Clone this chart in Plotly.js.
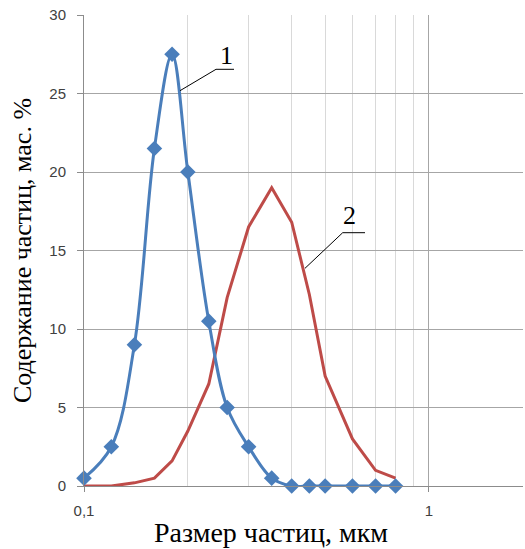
<!DOCTYPE html>
<html>
<head>
<meta charset="utf-8">
<script src="https://cdn.plot.ly/plotly-3.0.1.min.js"></script>
<style>html,body{margin:0;padding:0;background:#fff;}#chart{width:525px;height:549px;}</style>
</head>
<body>
<div id="chart"></div>
<script>
// Particle size, µm
const sizes = [0.1, 0.12, 0.14, 0.16, 0.18, 0.2, 0.23, 0.26, 0.3, 0.35, 0.4, 0.45, 0.5, 0.6, 0.7, 0.8];
// Series 1 (blue, smoothed with markers), mass %
const series1 = [0.5, 2.5, 9, 21.5, 27.5, 20, 10.5, 5, 2.5, 0.5, 0, 0, 0, 0, 0, 0];
// Series 2 (red, straight lines), mass %
const series2 = [0, 0, 0.2, 0.5, 1.6, 3.5, 6.5, 12, 16.5, 19, 16.8, 12.2, 7, 3, 1, 0.5];
const seriesLabels = ['1', '2'];
const xTickVals = [0.1, 1, 10];
const xTickText = ['0,1', '1', '10'];
const xMinorVals = [0.2, 0.3, 0.4, 0.5, 0.6, 0.7, 0.8, 0.9];
const yTickVals = [0, 5, 10, 15, 20, 25, 30];
const xTitle = 'Размер частиц, мкм';
const yTitle = 'Содержание частиц, мас. %';

const traces = [
  {x: sizes, y: series2, type: 'scatter', mode: 'lines', name: seriesLabels[1],
   line: {color: '#be4b48', width: 3}, cliponaxis: false},
  {x: sizes, y: series1, type: 'scatter', mode: 'lines+markers', name: seriesLabels[0],
   line: {color: '#4a7ebb', width: 3, shape: 'spline', smoothing: 1},
   marker: {symbol: 'diamond', size: 12, color: '#4a7ebb'}, cliponaxis: false}
];

const serif = '"Liberation Serif", "Times New Roman", serif';
const layout = {
  width: 525, height: 549,
  margin: {l: 84, r: 2, t: 15, b: 63, pad: 0},
  paper_bgcolor: '#fff', plot_bgcolor: '#fff',
  showlegend: false,
  xaxis: {
    type: 'log', range: [-1, 0.2725],
    tickmode: 'array', tickvals: xTickVals, ticktext: xTickText,
    ticks: 'outside', ticklen: 5, tickcolor: '#8c8c8c',
    ticklabelstandoff: 6,
    showgrid: true, gridcolor: '#a6a6a6', gridwidth: 1,
    minor: {tickmode: 'array', tickvals: xMinorVals, showgrid: true, gridcolor: '#d9d9d9', gridwidth: 1, ticks: ''},
    showline: true, linecolor: '#8c8c8c', linewidth: 1,
    zeroline: false,
    tickfont: {family: '"Liberation Sans", Arial, sans-serif', size: 15, color: '#404040'}
  },
  yaxis: {
    range: [0, 30],
    tickmode: 'array', tickvals: yTickVals,
    ticks: 'outside', ticklen: 6, tickcolor: '#8c8c8c',
    ticklabelstandoff: 8,
    showgrid: true, gridcolor: '#a6a6a6', gridwidth: 1,
    showline: true, linecolor: '#8c8c8c', linewidth: 1,
    zeroline: false,
    tickfont: {family: '"Liberation Sans", Arial, sans-serif', size: 15, color: '#404040'},
    title: {text: yTitle, font: {family: serif, size: 26, color: '#000'}, standoff: 10}
  },
  shapes: [
    {type: 'path', xref: 'paper', yref: 'paper', path: 'M 0.2187 0.8393 L 0.3007 0.8847 L 0.3417 0.8847', line: {color: '#000', width: 1}},
    {type: 'path', xref: 'paper', yref: 'paper', path: 'M 0.5034 0.4622 L 0.5893 0.5378 L 0.6401 0.5378', line: {color: '#000', width: 1}}
  ],
  annotations: [
    {xref: 'paper', yref: 'paper', x: 0.3235, y: 0.915, xanchor: 'center', yanchor: 'middle',
     text: seriesLabels[0], showarrow: false, font: {family: serif, size: 26, color: '#000'}},
    {xref: 'paper', yref: 'paper', x: 0.6059, y: 0.575, xanchor: 'center', yanchor: 'middle',
     text: seriesLabels[1], showarrow: false, font: {family: serif, size: 26, color: '#000'}},
    {xref: 'paper', yref: 'paper', x: 0.4271, y: -0.0995, xanchor: 'center', yanchor: 'middle',
     text: xTitle, showarrow: false, font: {family: serif, size: 28, color: '#000'}}
  ]
};
Plotly.newPlot('chart', traces, layout, {displayModeBar: false, staticPlot: true});
</script>
</body>
</html>
